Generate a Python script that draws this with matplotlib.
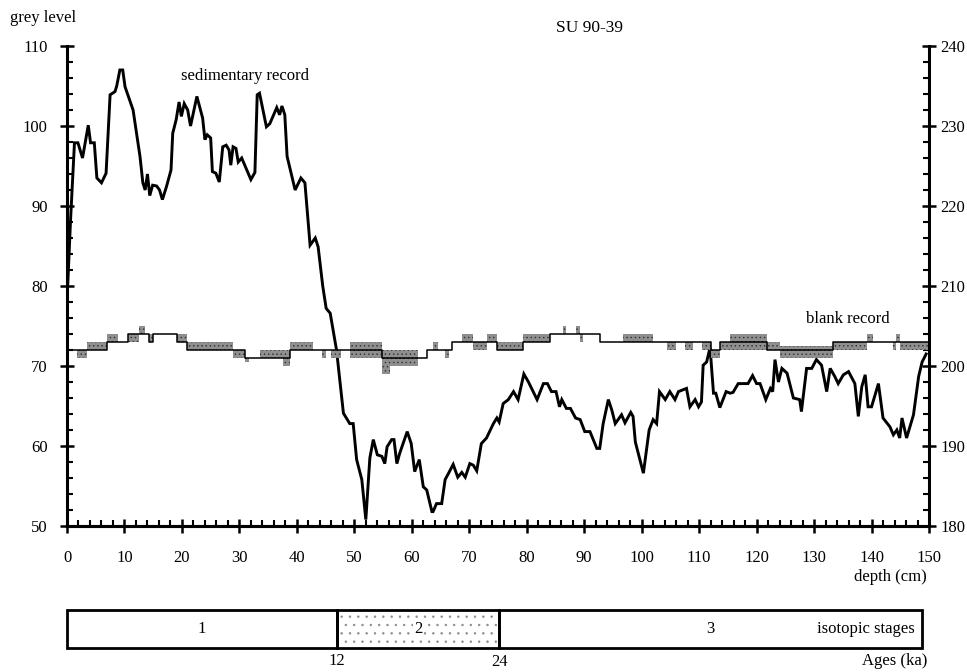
import numpy as np
import matplotlib
matplotlib.use('Agg')
import matplotlib.pyplot as plt
from matplotlib.ticker import MultipleLocator

plt.rcParams['font.family'] = ['Liberation Serif', 'DejaVu Serif']
plt.rcParams['hatch.linewidth'] = 0.5

# sedimentary record: depth (cm) and grey level (left axis)
sed_depth = [0, 0.6, 1.3, 1.9, 2.7, 3.7, 4.1, 4.75, 5.2, 6.0, 6.8, 7.5, 8.35, 8.65, 9.2, 9.7,
             10.1, 11.5, 12.7, 13.2, 13.6, 14.0, 14.4, 14.9, 15.6, 16.1, 16.6, 17.3, 18.1, 18.4,
             19.0, 19.5, 19.9, 20.4, 21.0, 21.5, 22.6, 23.6, 24.0, 24.4, 25.0, 25.3, 25.9, 26.5,
             27.1, 27.7, 28.2, 28.5, 28.9, 29.4, 29.8, 30.4, 31.3, 32.0, 32.7, 33.1, 33.5, 34.7,
             35.3, 36.2, 36.5, 37.0, 37.4, 37.9, 38.3, 39.7, 40.7, 41.4, 42.3, 43.2, 43.7, 44.5,
             45.1, 45.8, 46.9, 48.1, 49.2, 49.8, 50.4, 51.3, 52.0, 52.7, 53.3, 54.0, 54.8, 55.3,
             55.7, 56.5, 56.9, 57.4, 57.9, 59.2, 59.9, 60.5, 61.3, 62.0, 62.6, 63.5, 63.7, 64.3,
             65.2, 65.8, 66.4, 67.2, 68.0, 68.7, 69.3, 70.1, 70.7, 71.3, 72.1, 73.0, 74.2, 74.8,
             75.2, 75.9, 76.8, 77.7, 78.5, 79.5, 80.3, 81.8, 82.9, 83.6, 84.3, 85.1, 85.7, 86.1,
             86.9, 87.6, 88.5, 89.3, 90.1, 91.0, 92.2, 92.7, 93.3, 94.2, 94.8, 95.4, 96.5, 97.1,
             98.1, 98.5, 98.9, 100.3, 101.3, 102.0, 102.6, 103.1, 104.1, 104.9, 105.8, 106.4,
             107.8, 108.4, 109.3, 109.9, 110.4, 110.7, 111.3, 111.9, 112.5, 112.9, 113.6, 114.7,
             115.4, 115.9, 116.8, 118.5, 119.3, 120.0, 120.6, 121.6, 122.4, 122.8, 123.2, 123.8,
             124.4, 125.3, 126.4, 127.5, 127.8, 128.7, 129.6, 130.4, 131.3, 132.2, 132.8, 133.6,
             134.2, 135.1, 136.0, 137.1, 137.7, 138.3, 138.9, 139.4, 140.0, 141.2, 142.0, 143.2,
             143.8, 144.4, 144.9, 145.3, 146.1, 147.3, 148.2, 148.8, 149.5]
sed_grey = [78, 88, 97.9, 97.9, 96, 100.1, 97.9, 97.9, 93.5, 92.9, 94.1, 103.9, 104.3, 105, 107, 107,
            104.9, 102, 96.2, 92.9, 92, 94, 91.3, 92.6, 92.5, 92, 90.8, 92.4, 94.5, 99.1,
            100.8, 103, 101.2, 102.8, 102, 100, 103.7, 101, 98.3, 98.9, 98.5, 94.3, 94.1, 93,
            97.4, 97.6, 97, 95.1, 97.4, 97.2, 95.5, 96, 94.5, 93.3, 94.2, 103.9, 104.1, 99.9,
            100.3, 101.8, 102.3, 101.4, 102.5, 101.4, 96.2, 92, 93.5, 92.9, 85.1, 86, 84.9, 80,
            77.2, 76.6, 72, 64.1, 62.8, 62.8, 58.3, 55.8, 50.8, 58.5, 60.8, 58.9, 58.7, 57.8,
            59.9, 60.8, 60.8, 57.8, 59.1, 61.8, 60.3, 56.8, 58.3, 54.9, 54.5, 51.8, 51.8, 52.8,
            52.8, 55.8, 56.6, 57.7, 56.1, 56.7, 56.1, 57.8, 57.6, 56.9, 60.3, 61, 62.8, 63.5,
            63, 65.3, 65.8, 66.8, 65.8, 69, 68, 65.8, 67.8, 67.8, 66.8, 66.8, 64.9, 65.8,
            64.7, 64.7, 63.5, 63.3, 61.8, 61.8, 59.7, 59.7, 62.8, 65.8, 64.5, 62.8, 63.9, 62.9,
            64.2, 63.7, 60.5, 56.6, 62, 63.3, 62.8, 66.8, 65.8, 66.8, 65.8, 66.8,
            67.2, 64.9, 65.8, 64.9, 65.5, 70.1, 70.5, 72.3, 66.6, 66.6, 64.8, 66.8,
            66.6, 66.7, 67.8, 67.8, 68.8, 67.8, 67.8, 65.8, 67.2, 66.8, 70.8, 68,
            69.7, 69.1, 66, 65.8, 64.3, 69.7, 69.7, 70.8, 70.1, 66.8, 69.7, 68.7,
            67.8, 68.9, 69.3, 67.8, 63.7, 67.4, 68.9, 64.9, 64.9, 67.8, 63.5, 62.4,
            61.4, 62, 61, 63.5, 61, 63.9, 68.7, 70.5, 71.5]

# blank record (right axis): segment start depth, line level, flicker range low/high
blank_x = [0, 1.7, 3.5, 7.0, 8.8, 10.6, 12.6, 13.6, 14.2, 15.0, 19.1, 20.8, 28.9, 31.0, 31.6,
           33.6, 37.5, 38.8, 42.8, 44.3, 45.0, 46.0, 47.7, 49.2, 54.8, 56.2, 61.0, 62.6, 63.7,
           64.5, 65.7, 66.4, 67.0, 68.7, 70.6, 73.0, 74.8, 79.4, 84.0, 86.3, 86.9, 88.6, 89.3,
           89.8, 92.7, 96.8, 102.0, 104.4, 106.0, 107.5, 109.0, 110.5, 112.0, 113.6, 115.4,
           121.8, 124.0, 133.3, 139.2, 140.3, 143.8, 144.3, 145.0]
blank_level = [202, 202, 202, 203, 203, 204, 204, 204, 203, 204, 203, 202, 202, 201, 201,
               201, 201, 202, 202, 202, 202, 202, 202, 202, 201, 201, 201, 202, 202,
               202, 202, 202, 203, 203, 203, 203, 202, 203, 204, 204, 204, 204, 204,
               204, 203, 203, 203, 203, 203, 203, 203, 203, 202, 203, 203,
               202, 202, 203, 203, 203, 203, 203, 203]
blank_lo = [202, 201, 202, 203, 203, 203, 204, 204, 203, 204, 203, 202, 201, 200.5, 201,
            201, 200, 202, 202, 201, 202, 201, 202, 201, 199, 200, 201, 202, 202,
            202, 201, 202, 203, 203, 202, 203, 202, 203, 204, 204, 204, 204, 203,
            204, 203, 203, 203, 202, 203, 202, 203, 202, 201, 202, 202,
            202, 201, 202, 203, 203, 202, 203, 202]
blank_hi = [202, 202, 203, 204, 203, 204, 205, 204, 204, 204, 204, 203, 202, 201, 201,
            202, 202, 203, 202, 202, 202, 202, 202, 203, 202, 202, 201, 202, 203,
            202, 202, 202, 203, 204, 203, 204, 203, 204, 204, 205, 204, 205, 204,
            204, 203, 204, 203, 203, 203, 203, 203, 203, 202, 203, 204,
            203, 202.5, 203, 204, 203, 203, 204, 203]
depth_end = 150

# isotopic stages
stage_names = ['1', '2', '3']
stage_bounds = [0, 47.0, 75.2, 148.8]
stage_ages = ['12', '24']

fig = plt.figure(figsize=(9.67, 6.72), dpi=100)
ax = fig.add_axes([67 / 967, 1 - 526 / 672, 862 / 967, 480 / 672])
ax2 = ax.twinx()

ax.plot(sed_depth, sed_grey, color='black', lw=2.1, solid_joinstyle='miter', zorder=3)

bx = blank_x + [depth_end]
ax2.fill_between(bx, blank_lo + [blank_lo[-1]], blank_hi + [blank_hi[-1]], step='post',
                 facecolor='#8f8f8f', edgecolor='#303030', hatch='....', lw=0, zorder=2)
ax2.step(bx, blank_level + [blank_level[-1]], where='post', color='black', lw=1.1, zorder=3)

ax.set_xlim(0, 150)
ax.set_ylim(50, 110)
ax2.set_ylim(180, 240)

for a in (ax, ax2):
    a.spines['top'].set_visible(False)
    for s in ('left', 'right', 'bottom'):
        a.spines[s].set_linewidth(2.2)
    a.yaxis.set_major_locator(MultipleLocator(10))
    a.yaxis.set_minor_locator(MultipleLocator(2))
ax.spines['right'].set_visible(False)
ax2.spines['left'].set_visible(False)
ax.xaxis.set_major_locator(MultipleLocator(10))
ax.xaxis.set_minor_locator(MultipleLocator(2))

ax.tick_params(axis='x', which='major', direction='inout', length=10, width=1.8,
               labelsize=12, pad=12)
ax.tick_params(axis='x', which='minor', direction='in', length=4, width=1.5)
ax.tick_params(axis='y', which='major', direction='inout', length=10, width=1.8,
               labelsize=12, pad=9)
ax.tick_params(axis='y', which='minor', direction='in', length=4, width=1.5)
ax2.tick_params(axis='y', which='major', direction='inout', length=10, width=1.8,
                labelsize=12, pad=3)
ax2.tick_params(axis='y', which='minor', direction='in', length=4, width=1.5)

fig.text(10 / 967, 1 - 18 / 672, 'grey level', fontsize=12, va='center', ha='left')
fig.text(590 / 967, 1 - 28 / 672, 'SU 90-39', fontsize=12.5, va='center', ha='center')
fig.text(927 / 967, 1 - 577 / 672, 'depth (cm)', fontsize=12, va='center', ha='right')
ax.text(31, 106.2, 'sedimentary record', fontsize=12, ha='center', va='center')
ax.text(135.9, 75.9, 'blank record', fontsize=12, ha='center', va='center')

# stage bar
axs = fig.add_axes([67 / 967, 1 - 648 / 672, 862 / 967, 38 / 672])
axs.set_xlim(0, 150)
axs.set_ylim(0, 1)
axs.axis('off')
starts = stage_bounds[:-1]
widths = np.diff(stage_bounds)
# sparse stipple for stage 2, then outlines on top
axs.bar(starts[1], 1, width=widths[1], align='edge', facecolor='white', edgecolor='#8a8a8a',
        hatch='..', lw=0)
axs.bar(starts, 1, width=widths, align='edge', facecolor='none', edgecolor='black',
        lw=2.0, clip_on=False)
for i, name in enumerate(stage_names):
    axs.text(starts[i] + widths[i] / 2, 0.5, name, fontsize=12, ha='center', va='center',
             bbox=dict(facecolor='white', edgecolor='none', pad=0.5) if i == 1 else None)
axs.text(stage_bounds[-1] - 1.3, 0.5, 'isotopic stages', fontsize=12, ha='right', va='center')
axs.text(stage_bounds[1], -0.33, stage_ages[0], fontsize=12, ha='center', va='center')
axs.text(stage_bounds[2], -0.38, stage_ages[1], fontsize=12, ha='center', va='center')
axs.text(149.7, -0.33, 'Ages (ka)', fontsize=12, ha='right', va='center')

fig.savefig('out.png', dpi=100)
